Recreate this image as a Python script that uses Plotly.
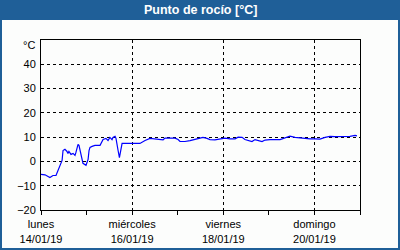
import plotly.graph_objects as go
import pandas as pd

# hours since 14/01/19 00:00
hours = [0, 2.1, 4.7, 6.3, 7.9, 9.0, 10.0, 11.1, 11.6, 12.6, 13.7, 14.2, 14.7, 15.8, 16.9, 17.9,
         18.4, 19.5, 20.0, 20.5, 21.6, 22.1, 23.7, 24.8, 25.3, 25.8, 26.9, 28.4, 31.1, 32.7, 34.2,
         35.3, 36.3, 37.4, 37.9, 39.0, 39.5, 40.0, 40.6, 41.3, 42.1, 42.7, 46.9, 52.1, 54.8, 57.4,
         64.3, 65.3, 70.6, 72.2, 73.2, 75.8, 78.5, 81.1, 83.7, 85.3, 87.4, 89.0, 91.6, 94.3, 96.9,
         99.5, 102.2, 103.8, 105.9, 107.4, 110.1, 111.1, 112.7, 114.3, 116.4, 118.0, 120.6, 125.9,
         128.5, 131.1, 133.8, 136.4, 139.0, 141.7, 144.3, 146.9, 149.6, 152.2, 154.8, 157.5, 160.1,
         162.7, 165.4, 166.4]
dew_point = [-5.3, -5.5, -6.6, -5.8, -5.8, -3.7, -1.6, 0.4, 4.5, 5.0, 4.1, 3.3, 4.1, 2.9, 3.3, 2.5,
             3.7, 7.0, 6.6, 4.5, 0.4, -0.8, -1.6, 0.8, 4.5, 5.8, 6.2, 6.6, 6.6, 9.0, 9.5,
             8.6, 9.9, 9.0, 9.9, 10.3, 9.5, 7.8, 4.5, 1.6, 4.5, 7.4, 7.4, 7.4, 8.6, 9.5,
             8.9, 9.6, 9.6, 9.0, 8.2, 8.2, 8.6, 9.0, 9.5, 9.9, 9.5, 9.0, 8.9, 9.3, 9.6,
             9.3, 9.3, 10.0, 9.9, 9.0, 8.6, 8.2, 9.0, 8.6, 8.2, 8.8, 9.0, 9.0,
             9.6, 10.4, 9.9, 9.6, 9.6, 9.3, 9.3, 9.2, 9.9, 10.3, 10.2, 10.2, 10.4,
             10.3, 10.7, 10.5]

tick_dates = ["2019-01-14", "2019-01-16", "2019-01-18", "2019-01-20"]
tick_labels = ["lunes<br>14/01/19", "miércoles<br>16/01/19", "viernes<br>18/01/19", "domingo<br>20/01/19"]
y_ticks = [-20, -10, 0, 10, 20, 30, 40]

base = pd.Timestamp("2019-01-14")
times = [base + pd.Timedelta(hours=h) for h in hours]

FONT = "Liberation Sans"
BLUE = "#1f5f98"

fig = go.Figure()
fig.add_trace(go.Scatter(x=times, y=dew_point, mode="lines",
                         line=dict(color="#0000ff", width=1.2), hoverinfo="skip"))

L, R, T, B = 41, 40, 40, 40
pw, ph = 400 - L - R, 250 - T - B

fig.update_layout(
    width=400, height=250,
    margin=dict(l=L, r=R, t=T, b=B),
    paper_bgcolor="#fcfdfc", plot_bgcolor="#fcfdfc",
    showlegend=False,
    font=dict(family=FONT, size=11, color="#000000"),
    xaxis=dict(
        type="date", range=["2019-01-14", "2019-01-21"],
        tickvals=tick_dates, ticktext=tick_labels,
        showgrid=True, gridcolor="#000000", griddash="3px,3px", gridwidth=1,
        ticks="outside", ticklen=4, tickcolor="#000000",
        minor=dict(dtick=86400000, tick0="2019-01-14", ticks="outside", ticklen=4,
                   tickcolor="#000000", showgrid=False),
        showline=True, linecolor="#000000", linewidth=1, mirror=True,
        zeroline=False, fixedrange=True, automargin=False,
        tickfont=dict(family=FONT, size=11),
    ),
    yaxis=dict(
        range=[-20, 50], tickvals=y_ticks,
        showgrid=True, gridcolor="#000000", griddash="3px,3px", gridwidth=1,
        ticks="", ticklabelstandoff=2,
        showline=True, linecolor="#000000", linewidth=1, mirror=True,
        zeroline=False, fixedrange=True, automargin=False,
        tickfont=dict(family=FONT, size=11),
    ),
    shapes=[
        dict(type="rect", xref="paper", yref="paper",
             x0=-L / pw, x1=1 + R / pw, y0=1 + (T - 20) / ph, y1=1 + T / ph,
             fillcolor=BLUE, line=dict(width=0), layer="above"),
        dict(type="rect", xref="paper", yref="paper",
             x0=-(L - 1) / pw, x1=1 + (R - 1) / pw, y0=-(B - 1) / ph, y1=1 + T / ph,
             fillcolor="rgba(0,0,0,0)", line=dict(color=BLUE, width=2), layer="above"),
    ],
    annotations=[
        dict(text="<b>Punto de rocío [°C]</b>", xref="paper", yref="paper",
             x=(200 - L) / pw, y=1 + (T - 10) / ph, xanchor="center", yanchor="middle",
             showarrow=False, font=dict(family=FONT, size=12.5, color="#ffffff")),
        dict(text="°C", xref="paper", yref="paper",
             x=-4 / pw, y=1 - 5 / ph, xanchor="right", yanchor="middle",
             showarrow=False, font=dict(family=FONT, size=11, color="#000000")),
    ],
)

fig.write_html("out.html")
